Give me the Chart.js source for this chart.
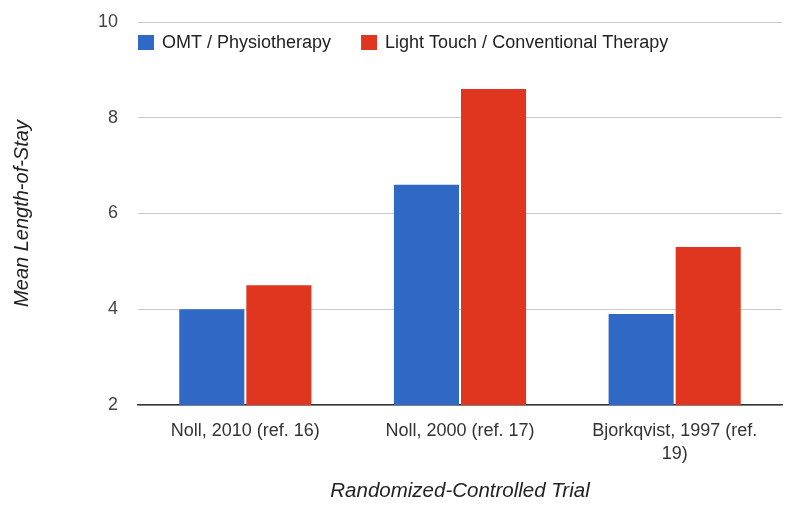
<!DOCTYPE html>
<html>
<head>
<meta charset="utf-8">
<script src="https://cdn.jsdelivr.net/npm/chart.js@4/dist/chart.umd.min.js"></script>
<style>
html,body{margin:0;padding:0;background:#fff;}
#wrap{width:800px;height:509px;position:relative;}
</style>
</head>
<body>
<div id="wrap"><canvas id="c" width="800" height="509"></canvas></div>
<script>
const categories = ["Noll, 2010 (ref. 16)", "Noll, 2000 (ref. 17)", ["Bjorkqvist, 1997 (ref.", "19)"]];
const seriesNames = ["OMT / Physiotherapy", "Light Touch / Conventional Therapy"];
const omtValues = [4.0, 6.6, 3.9];
const lightTouchValues = [4.5, 8.6, 5.3];
const yTicks = [2, 4, 6, 8, 10];

const FONT = 'Liberation Sans, Arial, sans-serif';

// Legend drawn inside the plot area, on one row, like the reference
const insideLegend = {
  id: 'insideLegend',
  afterDraw(chart) {
    const ctx = chart.ctx;
    const area = chart.chartArea;
    ctx.save();
    ctx.font = '18px ' + FONT;
    ctx.textBaseline = 'middle';
    ctx.textAlign = 'left';
    let x = area.left;
    const cy = area.top + 21;
    chart.data.datasets.forEach(ds => {
      ctx.fillStyle = ds.backgroundColor;
      ctx.fillRect(x, cy - 8, 16, 15);
      ctx.fillStyle = '#222';
      ctx.fillText(ds.label, x + 24, cy);
      x += 24 + ctx.measureText(ds.label).width + 30;
    });
    ctx.restore();
  }
};

new Chart(document.getElementById('c'), {
  type: 'bar',
  data: {
    labels: categories,
    datasets: [
      { label: seriesNames[0], data: omtValues, backgroundColor: '#3068c6', borderWidth: 0, categoryPercentage: 0.625, barPercentage: 0.97 },
      { label: seriesNames[1], data: lightTouchValues, backgroundColor: '#e0361f', borderWidth: 0, categoryPercentage: 0.625, barPercentage: 0.97 }
    ]
  },
  options: {
    responsive: false,
    animation: false,
    layout: { padding: { top: 0, right: 18, left: 0, bottom: 0 } },
    plugins: {
      legend: { display: false },
      tooltip: { enabled: false }
    },
    scales: {
      x: {
        grid: { display: false, drawTicks: false },
        border: { display: true, color: '#333', width: 1.5 },
        ticks: { color: '#333', padding: 15, maxRotation: 0, autoSkip: false, font: { family: FONT, size: 18, lineHeight: 1.25 } },
        title: { display: true, text: 'Randomized-Controlled Trial', color: '#222', padding: { top: 4, bottom: 5 }, font: { family: FONT, size: 20.5, style: 'italic' } },
        afterFit(scale) { scale.height = 104; }
      },
      y: {
        min: 2, max: 10,
        afterBuildTicks(scale) { scale.ticks = yTicks.map(v => ({ value: v })); },
        grid: { color: '#cccccc', drawTicks: false },
        border: { display: false },
        ticks: { color: '#444', padding: 20, font: { family: FONT, size: 18 } },
        title: { display: true, text: 'Mean Length-of-Stay', color: '#222', padding: { top: 10, bottom: 4 }, font: { family: FONT, size: 20, style: 'italic' } },
        afterFit(scale) { scale.width = 138; scale.paddingTop = 22; scale.paddingBottom = 0; }
      }
    }
  },
  plugins: [insideLegend]
});
</script>
</body>
</html>
